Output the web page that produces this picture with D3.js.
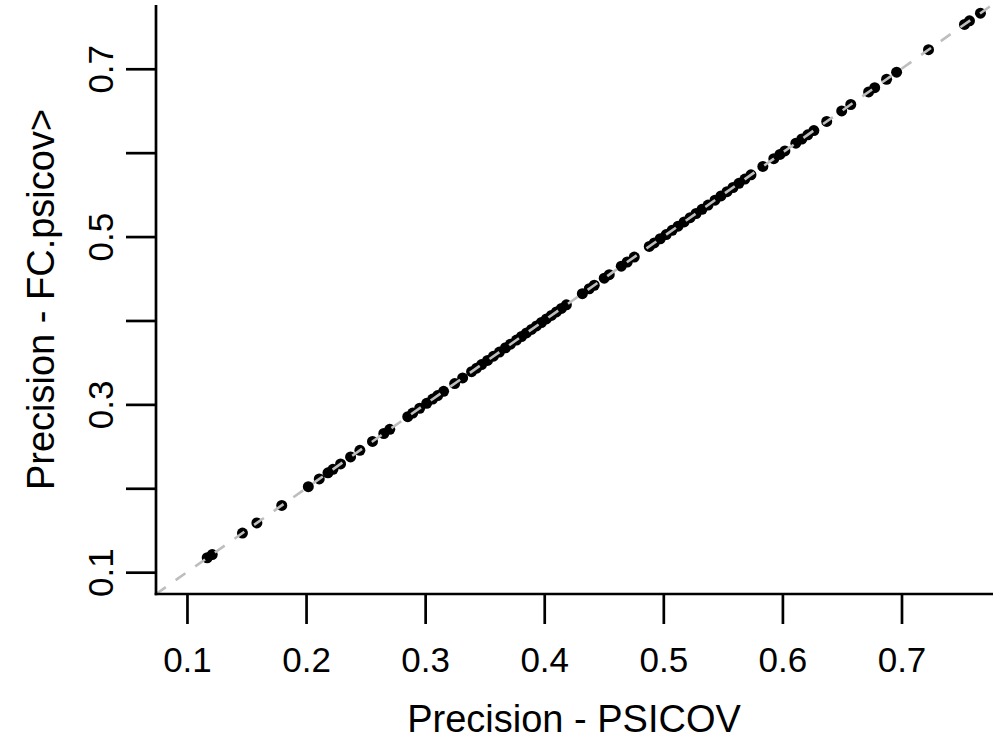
<!DOCTYPE html>
<html>
<head>
<meta charset="utf-8">
<script src="https://cdn.jsdelivr.net/npm/d3@7"></script>
<style>
  html, body { margin: 0; padding: 0; background: #fff; }
  svg text { font-family: "Liberation Sans", Arial, sans-serif; fill: #000; }
</style>
</head>
<body>
<svg id="chart" width="1000" height="750"></svg>
<script>
// precision values (PSICOV on x, FC.psicov on y)
var psicov = [0.1170, 0.1212, 0.1466, 0.1587, 0.1796, 0.2019, 0.2111, 0.2184, 0.2226, 0.2290,
    0.2374, 0.2452, 0.2558, 0.2653, 0.2703, 0.2854, 0.2896, 0.2954, 0.3013, 0.3063,
    0.3105, 0.3155, 0.3248, 0.3315, 0.3390, 0.3432, 0.3474, 0.3524, 0.3574, 0.3624,
    0.3675, 0.3717, 0.3767, 0.3809, 0.3851, 0.3893, 0.3935, 0.3976, 0.4018, 0.4060,
    0.4102, 0.4144, 0.4186, 0.4320, 0.4378, 0.4420, 0.4504, 0.4546, 0.4647, 0.4697,
    0.4756, 0.4882, 0.4924, 0.4974, 0.5024, 0.5074, 0.5124, 0.5175, 0.5225, 0.5275,
    0.5325, 0.5376, 0.5434, 0.5484, 0.5535, 0.5585, 0.5635, 0.5685, 0.5736, 0.5836,
    0.5928, 0.5979, 0.6021, 0.6113, 0.6163, 0.6213, 0.6264, 0.6372, 0.6498, 0.6574,
    0.6724, 0.6775, 0.6875, 0.6959, 0.7227, 0.7529, 0.7571, 0.7663];
var fcPsicov = [0.1172, 0.1210, 0.1466, 0.1587, 0.1796, 0.2019, 0.2111, 0.2184, 0.2226, 0.2290,
    0.2374, 0.2452, 0.2558, 0.2653, 0.2703, 0.2854, 0.2896, 0.2954, 0.3013, 0.3063,
    0.3105, 0.3155, 0.3248, 0.3315, 0.3390, 0.3432, 0.3474, 0.3524, 0.3574, 0.3624,
    0.3675, 0.3717, 0.3767, 0.3809, 0.3851, 0.3893, 0.3935, 0.3976, 0.4018, 0.4060,
    0.4102, 0.4144, 0.4186, 0.4320, 0.4378, 0.4420, 0.4504, 0.4546, 0.4647, 0.4697,
    0.4756, 0.4882, 0.4924, 0.4974, 0.5024, 0.5074, 0.5124, 0.5175, 0.5225, 0.5275,
    0.5325, 0.5376, 0.5434, 0.5484, 0.5535, 0.5585, 0.5635, 0.5685, 0.5736, 0.5836,
    0.5928, 0.5979, 0.6021, 0.6113, 0.6163, 0.6213, 0.6264, 0.6372, 0.6498, 0.6574,
    0.6724, 0.6775, 0.6875, 0.6959, 0.7227, 0.7529, 0.7571, 0.7663];

var xTicks = [0.1, 0.2, 0.3, 0.4, 0.5, 0.6, 0.7];
var yTicks = [0.1, 0.2, 0.3, 0.4, 0.5, 0.6, 0.7];
var yTickLabels = [0.1, 0.3, 0.5, 0.7];
var xTitle = "Precision - PSICOV";
var yTitle = "Precision - FC.psicov>";

// R style: limits 0.1..0.75, padded by 4%
var lim = [0.1, 0.75],
    pad = (lim[1] - lim[0]) * 0.04,
    domain = [lim[0] - pad, lim[1] + pad];

var plot = {left: 156, right: 992, top: 5, bottom: 594};

var x = d3.scaleLinear().domain(domain).range([plot.left, plot.right]);
var y = d3.scaleLinear().domain(domain).range([plot.bottom, plot.top]);

var svg = d3.select('#chart');
var fmt = d3.format('.1f');

svg.append('defs').append('clipPath').attr('id', 'plotclip')
    .append('rect')
    .attr('x', plot.left).attr('y', plot.top)
    .attr('width', plot.right - plot.left).attr('height', plot.bottom - plot.top);

// points
var points = d3.range(psicov.length).map(function(i) { return {x: psicov[i], y: fcPsicov[i]}; });
svg.append('g').attr('class', 'points')
    .selectAll('circle').data(points)
    .enter().append('circle')
    .attr('cx', function(d) { return x(d.x); })
    .attr('cy', function(d) { return y(d.y); })
    .attr('r', 5.5)
    .attr('fill', '#000');

// y = x reference line, drawn over the points
svg.append('line')
    .attr('clip-path', 'url(#plotclip)')
    .attr('x1', x(domain[0])).attr('y1', y(domain[0]))
    .attr('x2', x(domain[1])).attr('y2', y(domain[1]))
    .attr('stroke', '#bebebe')
    .attr('stroke-width', 2.6)
    .attr('stroke-dasharray', '12,12');

// x axis
var xAxis = d3.axisBottom(x).tickValues(xTicks).tickSize(30).tickFormat(fmt);
var gx = svg.append('g').attr('transform', 'translate(0,' + plot.bottom + ')').call(xAxis);
gx.select('.domain').remove();
gx.append('line')
    .attr('x1', plot.left - 1.3).attr('x2', plot.right + 1)
    .attr('stroke', '#000').attr('stroke-width', 2.7);
gx.selectAll('.tick line').attr('stroke', '#000').attr('stroke-width', 2.7);
gx.selectAll('.tick text')
    .attr('font-size', 35)
    .attr('font-family', '"Liberation Sans", Arial, sans-serif')
    .attr('dy', null)
    .attr('y', 78);

// y axis
var yAxis = d3.axisLeft(y).tickValues(yTicks).tickSize(30)
    .tickFormat(function(d) { return yTickLabels.indexOf(d) >= 0 ? fmt(d) : ''; });
var gy = svg.append('g').attr('transform', 'translate(' + plot.left + ',0)').call(yAxis);
gy.select('.domain').remove();
gy.append('line')
    .attr('y1', plot.top).attr('y2', plot.bottom + 1.3)
    .attr('stroke', '#000').attr('stroke-width', 2.7);
gy.selectAll('.tick line').attr('stroke', '#000').attr('stroke-width', 2.7);
gy.selectAll('.tick text')
    .attr('font-size', 35)
    .attr('font-family', '"Liberation Sans", Arial, sans-serif')
    .attr('x', null).attr('dy', null)
    .attr('text-anchor', 'middle')
    .attr('transform', 'translate(-43,0) rotate(-90)');

// axis titles
svg.append('text')
    .attr('x', (plot.left + plot.right) / 2)
    .attr('y', 732)
    .attr('text-anchor', 'middle')
    .attr('font-size', 38)
    .text(xTitle);

svg.append('text')
    .attr('transform', 'translate(54,' + ((plot.top + plot.bottom) / 2) + ') rotate(-90)')
    .attr('text-anchor', 'middle')
    .attr('font-size', 38)
    .text(yTitle);
</script>
</body>
</html>
